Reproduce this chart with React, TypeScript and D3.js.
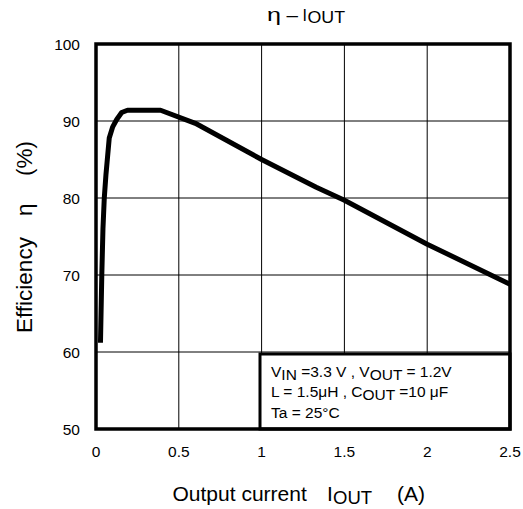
import React from "react";
import * as d3 from "d3";

const outputCurrentA = [0.027, 0.035, 0.042, 0.05, 0.06, 0.08, 0.1, 0.125, 0.155, 0.19, 0.39, 0.6, 1.0, 1.33, 1.5, 2.0, 2.5];
const efficiencyPct = [61.2, 70, 76, 80, 83, 87.8, 89.2, 90.2, 91.1, 91.4, 91.4, 89.7, 85.0, 81.4, 79.7, 74.0, 68.8];
const xTicks = [0, 0.5, 1, 1.5, 2, 2.5];
const xTickLabels = ["0", "0.5", "1", "1.5", "2", "2.5"];
const yTicks = [50, 60, 70, 80, 90, 100];
const yTickLabels = ["50", "60", "70", "80", "90", "100"];

const FONT = "'Liberation Sans', Arial, Helvetica, sans-serif";

export default function App() {
  const W = 523, H = 509;
  const left = 96, right = 510, top = 44, bottom = 429;
  const x = d3.scaleLinear().domain([0, 2.5]).range([left, right]);
  const y = d3.scaleLinear().domain([50, 100]).range([bottom, top]);
  const pts: [number, number][] = outputCurrentA.map((c, i) => [c, efficiencyPct[i]]);
  const line = d3.line<[number, number]>().x(d => x(d[0])).y(d => y(d[1]));

  const box = { x0: 260, y0: 354, x1: right, y1: bottom };

  return (
    <svg width={W} height={H} style={{ position: "absolute", left: 0, top: 0, background: "#fff" }} fontFamily={FONT}>
      <rect x={0} y={0} width={W} height={H} fill="#fff" />
      {/* title */}
      <text y={20.5} fontSize={16} fill="#000">
        <tspan x={267} fontSize={19} textLength={14} lengthAdjust="spacingAndGlyphs">η</tspan>
        <tspan x={286.5} textLength={11.5} lengthAdjust="spacingAndGlyphs">–</tspan>
        <tspan x={302.5}>I</tspan>
        <tspan x={307.5} dy={2.8} textLength={37.5} lengthAdjust="spacingAndGlyphs">OUT</tspan>
      </text>
      {/* grid */}
      {xTicks.slice(1, -1).map(t => (
        <line key={"gx" + t} x1={x(t)} x2={x(t)} y1={top} y2={bottom} stroke="#000" strokeWidth={1} />
      ))}
      {yTicks.slice(1, -1).map(t => (
        <line key={"gy" + t} x1={left} x2={right} y1={y(t)} y2={y(t)} stroke="#000" strokeWidth={1} />
      ))}
      {/* curve */}
      <path d={line(pts) || ""} fill="none" stroke="#000" strokeWidth={5} strokeLinejoin="round" strokeLinecap="butt" />
      {/* legend box */}
      <rect x={box.x0} y={box.y0} width={box.x1 - box.x0} height={box.y1 - box.y0} fill="#fff" stroke="#000" strokeWidth={3} />
      <g fontSize={15.5} fill="#000">
        <text x={271} y={377}>
          V<tspan dy={3}>IN</tspan><tspan dy={-3}> =3.3 V , V</tspan><tspan dy={3}>OUT</tspan><tspan dy={-3}> = 1.2V</tspan>
        </text>
        <text x={271} y={397}>
          L = 1.5μH , C<tspan dy={3}>OUT</tspan><tspan dy={-3}> =10 μF</tspan>
        </text>
        <text x={271} y={418}>Ta = 25°C</text>
      </g>
      {/* frame */}
      <rect x={left} y={top} width={right - left} height={bottom - top} fill="none" stroke="#000" strokeWidth={3.5} />
      {/* tick labels */}
      {yTicks.map((t, i) => (
        <text key={"yt" + t} x={80} y={y(t) + 5.5} fontSize={15.5} textAnchor="end" fill="#000">{yTickLabels[i]}</text>
      ))}
      {xTicks.map((t, i) => (
        <text key={"xt" + t} x={x(t)} y={457} fontSize={15.5} textAnchor="middle" fill="#000">{xTickLabels[i]}</text>
      ))}
      {/* x label */}
      <text y={501} fontSize={21} fill="#000">
        <tspan x={172.5}>Output current</tspan>
        <tspan x={327}>I</tspan>
        <tspan x={333} dy={3} fontSize={18.5}>OUT</tspan>
        <tspan x={397} dy={-3}>(A)</tspan>
      </text>
      {/* y label */}
      <text transform="rotate(-90)" y={31.5} fontSize={22.5} fill="#000">
        <tspan x={-333}>Efficiency</tspan>
        <tspan x={-216}>η</tspan>
        <tspan x={-176}>(%)</tspan>
      </text>
    </svg>
  );
}
